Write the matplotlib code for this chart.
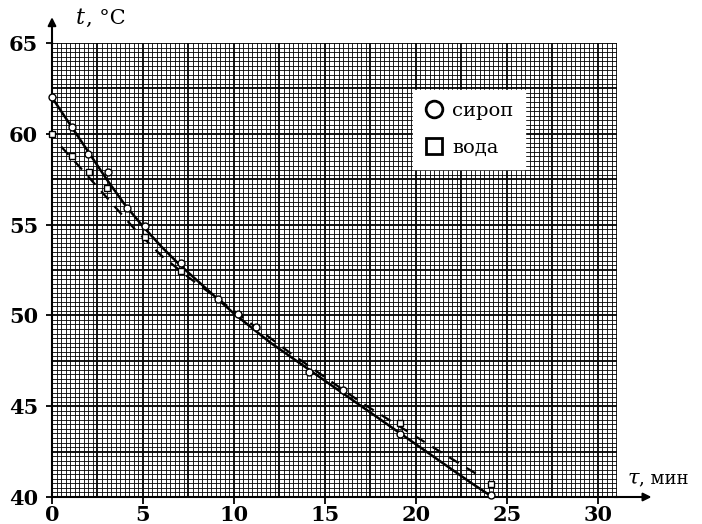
import numpy as np
import matplotlib
matplotlib.use("Agg")
import matplotlib.pyplot as plt
from matplotlib.lines import Line2D

# --- data ---
syrup_t = [0, 1.1, 2, 3.1, 4.1, 5.1, 7.1, 9.1, 10.2, 11.2, 14.1, 16.0, 19.1, 24.1]
syrup_v = [62.0, 60.4, 58.9, 57.9, 55.9, 54.9, 52.9, 50.9, 50.05, 49.35, 46.9, 45.9, 43.45, 40.1]

water_t = [0, 1.1, 2.05, 3.05, 5.1, 7.1, 19.1, 24.1]
water_v = [60.0, 58.8, 57.9, 57.0, 54.3, 52.45, 44.05, 40.7]

# smooth curve for syrup (solid)
syrup_curve_t = [0, 1, 2, 3, 4, 5, 6, 7, 8, 9, 10, 11, 12, 13, 14, 15, 16, 17, 18, 19, 20, 21, 22, 23, 24.2]
syrup_curve_v = [62.0, 60.5, 59.0, 57.5, 56.1, 54.9, 53.8, 52.8, 51.9, 51.0, 50.1, 49.3, 48.5,
                 47.8, 47.1, 46.4, 45.7, 45.0, 44.3, 43.6, 42.9, 42.2, 41.5, 40.8, 40.0]

# fitted line for water (dashed)
water_curve_t = [0.5, 1.5, 3, 4.5, 6, 7.5, 9, 11, 13, 15, 17, 19, 21, 23.6]
water_curve_v = [59.3, 58.2, 56.5, 54.8, 53.3, 52.1, 51.0, 49.5, 48.0, 46.6, 45.2, 43.95, 42.7, 41.1]

x_ticks = [0, 5, 10, 15, 20, 25, 30]
y_ticks = [40, 45, 50, 55, 60, 65]
x_max = 31.05
y_min, y_max = 40, 65

fig = plt.figure(figsize=(7.02, 5.24), dpi=100)
ax = fig.add_axes([52 / 702, 27 / 524, 565 / 702, 454 / 524])
ax.set_xlim(0, x_max)
ax.set_ylim(y_min, y_max)

# graph-paper grid
for xv in np.arange(0, x_max + 1e-9, 0.25):
    major = abs(xv / 2.5 - round(xv / 2.5)) < 1e-6
    ax.axvline(xv, color="black", lw=1.3 if major else 0.6, zorder=1)
for yv in np.arange(y_min, y_max + 1e-9, 0.25):
    major = abs((yv - y_min) / 2.5 - round((yv - y_min) / 2.5)) < 1e-6
    ax.axhline(yv, color="black", lw=1.3 if major else 0.6, zorder=1)

# curves
ax.plot(syrup_curve_t, syrup_curve_v, color="black", lw=1.8, zorder=3)
ax.plot(water_curve_t, water_curve_v, color="black", lw=1.6, ls=(0, (5, 4)), zorder=3)

# markers
ax.plot(syrup_t, syrup_v, ls="none", marker="o", ms=5, mfc="white", mec="black", mew=1.0,
        zorder=4, clip_on=False)
ax.plot(water_t, water_v, ls="none", marker="s", ms=5, mfc="white", mec="black", mew=1.0,
        zorder=4, clip_on=False)

# spines & arrows
for s in ["top", "right"]:
    ax.spines[s].set_visible(False)
ax.spines["left"].set_linewidth(1.5)
ax.spines["bottom"].set_linewidth(1.5)
ax.annotate("", xy=(1.066, 0), xytext=(0.99, 0), xycoords="axes fraction",
            arrowprops=dict(arrowstyle="-|>", color="black", lw=1.5, mutation_scale=12),
            annotation_clip=False)
ax.annotate("", xy=(0, 1.063), xytext=(0, 0.99), xycoords="axes fraction",
            arrowprops=dict(arrowstyle="-|>", color="black", lw=1.5, mutation_scale=12),
            annotation_clip=False)

ax.set_xticks(x_ticks)
ax.set_yticks(y_ticks)
ax.set_xticklabels([str(v) for v in x_ticks], fontfamily="DejaVu Serif", fontweight="bold", fontsize=15)
ax.set_yticklabels([str(v) for v in y_ticks], fontfamily="DejaVu Serif", fontweight="bold", fontsize=15)
ax.tick_params(axis="x", direction="out", length=5, width=1.3, pad=1)
ax.tick_params(axis="y", direction="out", length=4, width=1.3, pad=6)

# axis labels
fig.text(76 / 702, 1 - 18 / 524, "t", fontfamily="DejaVu Serif", fontstyle="italic", fontsize=16,
         va="center", ha="left")
fig.text(86 / 702, 1 - 18 / 524, ", °C", fontfamily="DejaVu Serif", fontsize=15,
         va="center", ha="left")
fig.text(628 / 702, 1 - 478 / 524, "τ", fontfamily="DejaVu Serif", fontstyle="italic", fontsize=15,
         va="center", ha="left")
fig.text(639 / 702, 1 - 478 / 524, ", мин", fontfamily="DejaVu Serif", fontsize=13,
         va="center", ha="left")

# legend
handles = [
    Line2D([], [], ls="none", marker="o", ms=12, mfc="white", mec="black", mew=2),
    Line2D([], [], ls="none", marker="s", ms=11, mfc="white", mec="black", mew=2),
]
leg = ax.legend(handles, ["сироп", "вода"], loc="upper left",
                bbox_to_anchor=((413 - 52) / 565, (497 - 90) / 454),
                borderaxespad=0, frameon=True, fancybox=False, framealpha=1,
                facecolor="white", edgecolor="white",
                prop={"family": "DejaVu Serif", "size": 14},
                handletextpad=0.4, labelspacing=1.0, borderpad=0.6, handlelength=1.0)
leg.set_zorder(5)

fig.savefig("out.png", dpi=100)
